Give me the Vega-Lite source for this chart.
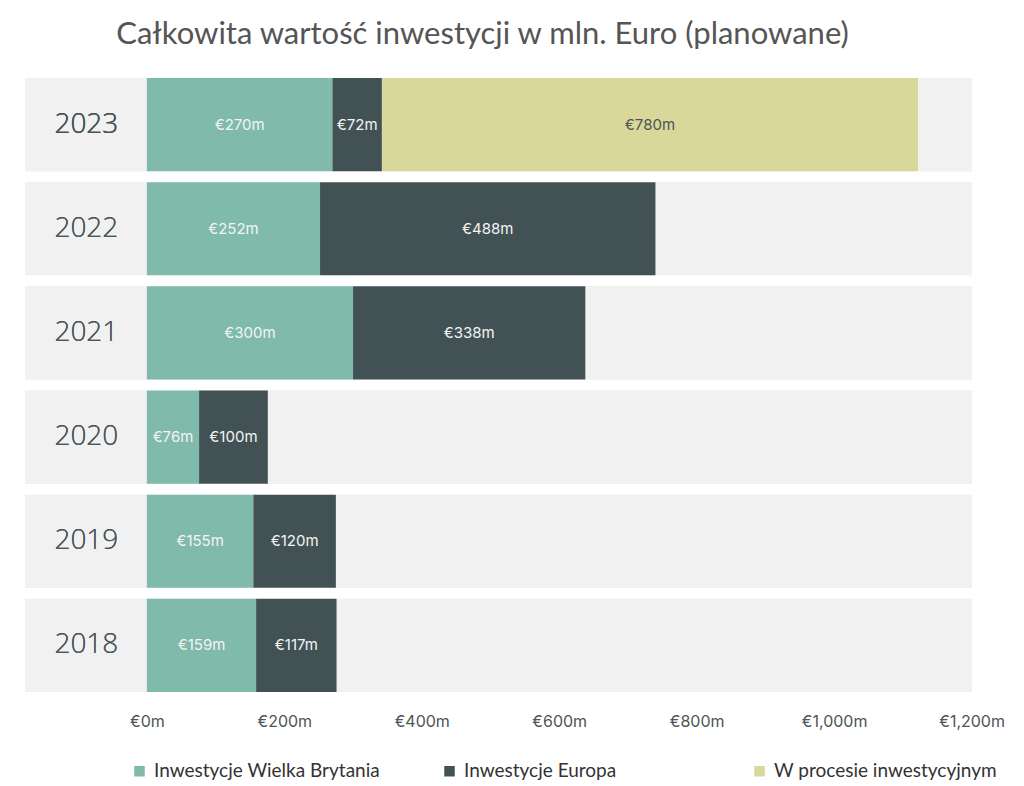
{
  "$schema": "https://vega.github.io/schema/vega-lite/v6.json",
  "width": 947,
  "height": 625,
  "autosize": {"type": "none"},
  "padding": {"left": 25, "top": 72.5, "right": 52, "bottom": 88.5},
  "background": "white",
  "config": {"view": {"stroke": null}},
  "title": {
    "text": "Całkowita wartość inwestycji w mln. Euro (planowane)",
    "font": "Lato",
    "fontSize": 31,
    "fontWeight": "normal",
    "color": "#555555",
    "anchor": "middle",
    "dx": -16,
    "offset": 22
  },
  "data": {
    "values": [
      {"year": "2023", "category": "Inwestycje Wielka Brytania", "value": 270},
      {"year": "2023", "category": "Inwestycje Europa", "value": 72},
      {"year": "2023", "category": "W procesie inwestycyjnym", "value": 780},
      {"year": "2022", "category": "Inwestycje Wielka Brytania", "value": 252},
      {"year": "2022", "category": "Inwestycje Europa", "value": 488},
      {"year": "2021", "category": "Inwestycje Wielka Brytania", "value": 300},
      {"year": "2021", "category": "Inwestycje Europa", "value": 338},
      {"year": "2020", "category": "Inwestycje Wielka Brytania", "value": 76},
      {"year": "2020", "category": "Inwestycje Europa", "value": 100},
      {"year": "2019", "category": "Inwestycje Wielka Brytania", "value": 155},
      {"year": "2019", "category": "Inwestycje Europa", "value": 120},
      {"year": "2018", "category": "Inwestycje Wielka Brytania", "value": 159},
      {"year": "2018", "category": "Inwestycje Europa", "value": 117}
    ]
  },
  "transform": [
    {"calculate": "indexof(['Inwestycje Wielka Brytania','Inwestycje Europa','W procesie inwestycyjnym'], datum.category)", "as": "ord"},
    {"stack": "value", "groupby": ["year"], "sort": [{"field": "ord"}], "as": ["x0", "x1"]},
    {"calculate": "(datum.x0 + datum.x1) / 2", "as": "mid"},
    {"calculate": "'€' + datum.value + 'm'", "as": "label"}
  ],
  "encoding": {
    "y": {
      "field": "year",
      "type": "nominal",
      "sort": "descending",
      "scale": {"paddingInner": 0.105, "paddingOuter": 0.0525},
      "axis": null
    }
  },
  "layer": [
    {
      "mark": {"type": "bar", "color": "#f1f1f1"},
      "encoding": {
        "x": {"datum": -177.3, "type": "quantitative"},
        "x2": {"datum": 1200.6}
      }
    },
    {
      "mark": {"type": "bar"},
      "encoding": {
        "x": {
          "field": "x0",
          "type": "quantitative",
          "scale": {"domain": [-177.3, 1200.6], "nice": false, "zero": false},
          "axis": {
            "values": [0, 200, 400, 600, 800, 1000, 1200],
            "labelExpr": "'€' + format(datum.value, ',') + 'm'",
            "domain": false,
            "ticks": false,
            "grid": false,
            "title": null,
            "labelFont": "Inter",
            "labelFontSize": 16,
            "labelColor": "#4d5556",
            "labelPadding": 16,
            "labelBound": false,
            "labelFlush": false,
            "labelOverlap": false
          }
        },
        "x2": {"field": "x1"},
        "color": {
          "field": "category",
          "type": "nominal",
          "scale": {
            "domain": ["Inwestycje Wielka Brytania", "Inwestycje Europa", "W procesie inwestycyjnym"],
            "range": ["#7fbaaa", "#425254", "#d9d79a"]
          },
          "legend": {
            "title": null,
            "orient": "none",
            "direction": "horizontal",
            "columns": 3,
            "gridAlign": "all",
            "columnPadding": 60,
            "legendX": 105,
            "legendY": 689,
            "symbolType": "square",
            "symbolSize": 110,
            "symbolStrokeWidth": 0,
            "labelFont": "Lato",
            "labelFontSize": 19,
            "labelColor": "#333333",
            "labelLimit": 400,
            "labelOffset": 5
          }
        }
      }
    },
    {
      "mark": {"type": "text", "font": "Inter", "fontSize": 15, "align": "center", "baseline": "middle"},
      "encoding": {
        "x": {"field": "mid", "type": "quantitative"},
        "text": {"field": "label"},
        "color": {
          "condition": {"test": "datum.category === 'W procesie inwestycyjnym'", "value": "#4a5558"},
          "value": "#f4f4f4"
        }
      }
    },
    {
      "mark": {"type": "text", "color": "#4a5558", "font": "Open Sans", "fontSize": 28, "fontWeight": 300, "align": "center", "baseline": "middle"},
      "encoding": {
        "x": {"datum": -88, "type": "quantitative"},
        "text": {"field": "year"}
      }
    }
  ]
}
